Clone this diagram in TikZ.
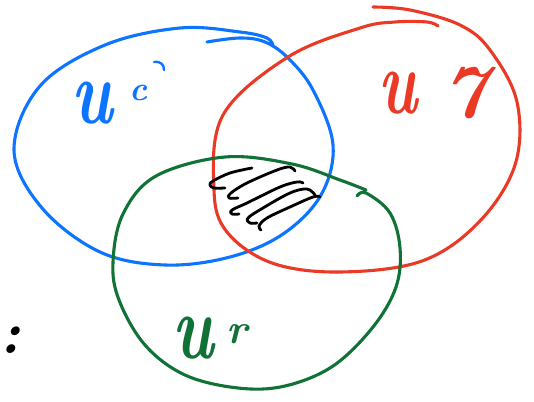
\documentclass[tikz,border=0pt]{standalone}
\usepackage{fontspec}
\definecolor{penblue}{RGB}{12,116,255}
\definecolor{penred}{RGB}{234,58,38}
\definecolor{pengreen}{RGB}{16,114,54}
\begin{document}
\begin{tikzpicture}[x=1pt,y=-1pt,
  pen/.style={line width=3.1pt,line cap=round,line join=round},
  hatch/.style={pen,line width=2.8pt,black},
  lbl/.style={inner sep=0pt,font=\bfseries\itshape\fontsize{92}{92}\selectfont},
  sup/.style={inner sep=0pt,font=\bfseries\itshape\fontsize{34}{34}\selectfont}]
\path[use as bounding box,fill=white] (0,0) rectangle (534,401);
% blue set
\draw[pen,penblue] plot[smooth,tension=0.6] coordinates {
 (207,42) (240,38) (265,42) (288,58) (313,90) (333,145) (321,195) (283,234)
 (230,257) (165,265) (100,252) (42,208) (14,150) (40,86) (105,45) (180,28)
 (240,32) (267,38) (273,46)};
% red set
\draw[pen,penred] plot[smooth,tension=0.6] coordinates {
 (373,7) (410,10) (460,25) (490,50) (517,102) (515,165) (479,222) (422,261)
 (340,272) (272,263) (227,232) (214,190) (223,115) (288,57) (360,28)
 (395,22) (427,22) (438,26)};
% green set
\draw[pen,pengreen] plot[smooth,tension=0.6] coordinates {
 (357,196) (366,193) (390,213) (400,248) (396,287) (373,327) (333,366)
 (285,386) (238,388) (185,375) (145,345) (119,300) (113,262) (123,214)
 (156,176) (225,157) (292,164) (340,180) (366,190)};
% hatching
\draw[hatch] plot[smooth,tension=0.6] coordinates {(252,168) (230,173) (213,181) (210,185) (214,188) (225,188)};
\draw[hatch] plot[smooth,tension=0.6] coordinates {(295,171) (290,167) (277,170) (247,183) (231,193) (229,198) (238,198)};
\draw[hatch] plot[smooth,tension=0.6] coordinates {(303,183) (297,182) (280,187) (247,203) (232,210) (232,214) (239,214)};
\draw[hatch] plot[smooth,tension=0.6] coordinates {(315,195) (307,189) (290,193) (263,208) (248,218) (250,223) (257,223)};
\draw[hatch] plot[smooth,tension=0.6] coordinates {(320,197) (313,197) (290,207) (267,218) (259,226) (261,230)};
% labels
\node[lbl,penblue,xscale=0.72] (ub) at (92,103) {u};
\node[sup,penblue] (cb) at (139,93) {c};
\draw[pen,penblue,line width=2.4pt] (154,62) .. controls (161,61) and (164,65) .. (164,70);
\node[lbl,penred,xscale=0.68] (ur) at (398,93) {u};
\node[inner sep=0pt,penred,font=\bfseries\itshape\fontsize{76}{76}\selectfont] (sr) at (465,93) {7};
\node[lbl,pengreen,xscale=0.72] (ug) at (193,338) {u};
\node[sup,pengreen,font=\bfseries\itshape\fontsize{42}{42}\selectfont] (rg) at (237,334) {r};
\node[inner sep=0pt,font=\bfseries\itshape\fontsize{60}{60}\selectfont] (colon) at (10,340) {:};
\end{tikzpicture}
\end{document}
